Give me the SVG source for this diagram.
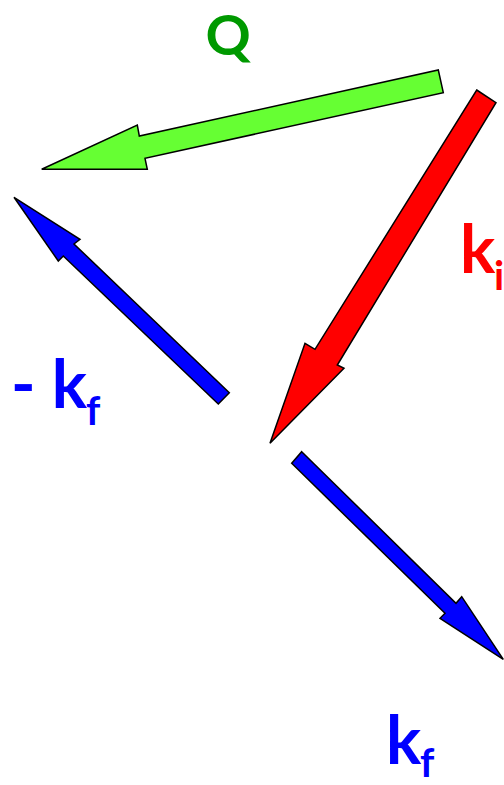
<svg xmlns="http://www.w3.org/2000/svg" width="504" height="785" viewBox="0 0 504 785">
<style>
.arr{stroke:#000;stroke-width:1.5;stroke-linejoin:miter}
.lbl{font-family:Lato,"Open Sans","Liberation Sans",sans-serif;font-weight:bold}
.main{font-size:66px}
.sub{font-size:40px}
</style>
<rect width="504" height="785" fill="#fff"/>
<g id="connectors">
<polygon id="Q-arrow" class="arr" fill="#66FF33" points="438.3,70 443.3,92.7 145,158.3 147.3,169.3 41.7,169.3 137.3,125 139.3,136"/>
<polygon id="ki-arrow" class="arr" fill="#FF0000" points="476.7,90 496,102.7 337.3,365 344,368.3 270,443.3 305,343.3 315,349.3"/>
<polygon id="mkf-arrow" class="arr" fill="#0000FF" points="14,197.3 80,239.3 74,244 229.3,392.7 218.3,404 63.3,256 58.3,261"/>
<polygon id="kf-arrow" class="arr" fill="#0000FF" points="301.7,451.7 456,603.3 461.7,596.7 503.3,659.3 440,618.3 445,613.3 291.7,463.3"/>
</g>
<g id="label-Q"><text class="lbl" x="228" y="55" font-size="56" fill="#009900" text-anchor="middle">Q</text></g>
<g id="label-ki"><text class="lbl main" x="460" y="272.7" fill="#FF0000">k</text><text class="lbl sub" x="494" y="290" fill="#FF0000">i</text></g>
<g id="label-mkf"><text class="lbl main" x="11" y="408" fill="#0000FF">- k</text><text class="lbl sub" x="86" y="425" fill="#0000FF">f</text></g>
<g id="label-kf"><text class="lbl main" x="386" y="764" fill="#0000FF">k</text><text class="lbl sub" x="420" y="777" fill="#0000FF">f</text></g>
</svg>
